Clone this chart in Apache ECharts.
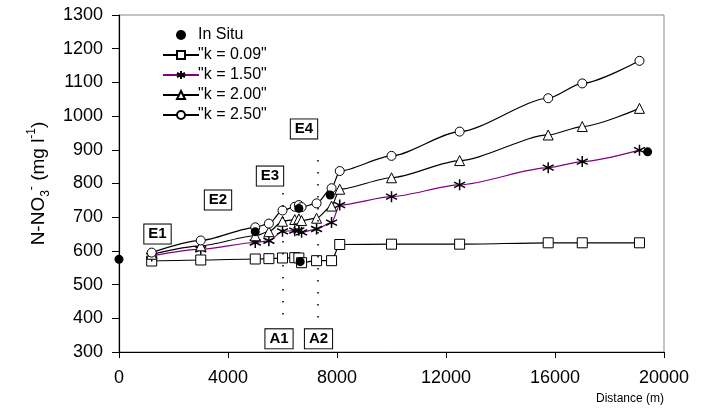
<!DOCTYPE html>
<html>
<head>
<meta charset="utf-8">
<script src="https://cdn.jsdelivr.net/npm/echarts@6/dist/echarts.min.js"></script>
<style>
html,body{margin:0;padding:0;background:#fff;}
#chart{width:708px;height:415px;}
</style>
</head>
<body>
<div id="chart"></div>
<script>
// ---- data ----
const distance = [1200, 3000, 5000, 5500, 6000, 6450, 6600, 6700, 7250, 7800, 8100, 10000, 12500, 15750, 17000, 19100];
const k009 = [570, 573, 576, 577, 579, 580, 579, 565, 571, 571, 619, 620, 620, 624, 624, 624];
const k150 = [585, 605, 625, 630, 658, 660, 661, 655, 665, 684, 736, 761, 796, 847, 865, 899];
const k200 = [590, 615, 645, 657, 688, 693, 695, 690, 697, 733, 783, 817, 868, 944, 969, 1023];
const k250 = [595, 631, 670, 681, 720, 731, 736, 730, 741, 786, 837, 882, 954, 1053, 1097, 1164];
const inSituX = [0, 5000, 6600, 6650, 7750, 19400];
const inSituY = [575, 657, 726, 568, 766, 894];
const seriesNames = ['In Situ', '"k = 0.09"', '"k = 1.50"', '"k = 2.00"', '"k = 2.50"'];
const xTicks = [0, 4000, 8000, 12000, 16000, 20000];
const yTicks = [300, 400, 500, 600, 700, 800, 900, 1000, 1100, 1200, 1300];
const annotationNames = ['E1', 'E2', 'E3', 'E4', 'A1', 'A2'];
const annotationX = [1413, 3633, 5541, 6789, 5872, 7321];
const annotationY = [650, 751, 822, 962, 339, 339];
const markerLineX = [6000, 7300];
const markerLineTop = [772, 870];
const markerLineBottom = [380, 380];

const zip = (xs, ys) => xs.map((x, i) => [x, ys[i]]);
const FONT = 'Liberation Sans, Arial, sans-serif';
const starPath = 'path://M0,-6L0,6M-5.2,-3L5.2,3M-5.2,3L5.2,-3';

function lineSeries(name, ys, symbol, color, size) {
  const isStar = symbol === starPath;
  return {
    name: name,
    type: 'line',
    data: zip(distance, ys),
    smooth: 0.25,
    smoothMonotone: 'x',
    symbol: symbol,
    symbolSize: size,
    showAllSymbol: true,
    lineStyle: { color: color, width: 1.2 },
    itemStyle: { color: isStar ? '#000' : '#fff', borderColor: '#000', borderWidth: isStar ? 1.5 : 1, opacity: 1 },
    emphasis: { disabled: true },
    z: 3
  };
}

const chart = echarts.init(document.getElementById('chart'), null, { renderer: 'canvas' });
chart.setOption({
  animation: false,
  textStyle: { fontFamily: FONT, color: '#000' },
  grid: { left: 119, right: 44, top: 15, bottom: 63, show: true, borderColor: '#888', borderWidth: 1, containLabel: false },
  legend: {
    orient: 'vertical',
    left: 157,
    top: 22,
    itemWidth: 36,
    itemHeight: 10,
    itemGap: 4,
    textStyle: { fontFamily: FONT, fontSize: 16, color: '#000', padding: [0, 0, 0, -6] },
    data: seriesNames,
    selectedMode: false
  },
  xAxis: {
    type: 'value',
    min: xTicks[0],
    max: xTicks[xTicks.length - 1],
    interval: xTicks[1] - xTicks[0],
    name: 'Distance (m)',
    nameLocation: 'end',
    nameGap: 0,
    nameTextStyle: { fontFamily: FONT, fontSize: 12, color: '#000', align: 'right', verticalAlign: 'top', padding: [41, 0, 0, 0] },
    axisLine: { lineStyle: { color: '#000', width: 1.2 } },
    axisTick: { inside: false, length: 6, lineStyle: { color: '#000' } },
    axisLabel: { fontFamily: FONT, fontSize: 18, color: '#000', margin: 17, formatter: v => String(v) },
    splitLine: { show: false }
  },
  yAxis: {
    type: 'value',
    min: yTicks[0],
    max: yTicks[yTicks.length - 1],
    interval: yTicks[1] - yTicks[0],
    name: '{b|N-NO}{sub|3}{sup|-}{b| (mg l}{sup|-1}{b|)}',
    nameLocation: 'middle',
    nameRotate: 90,
    nameGap: 47,
    nameTextStyle: {
      rich: {
        b: { fontFamily: FONT, fontSize: 19, color: '#000', lineHeight: 26, verticalAlign: 'middle' },
        sub: { fontFamily: FONT, fontSize: 12, color: '#000', lineHeight: 26, verticalAlign: 'bottom' },
        sup: { fontFamily: FONT, fontSize: 12, color: '#000', lineHeight: 26, verticalAlign: 'top' }
      }
    },
    axisLine: { show: true, lineStyle: { color: '#000', width: 1.2 } },
    axisTick: { show: true, inside: false, length: 7, lineStyle: { color: '#000' } },
    axisLabel: { fontFamily: FONT, fontSize: 18, color: '#000', margin: 16, formatter: v => String(v) },
    splitLine: { show: false }
  },
  series: [
    {
      name: seriesNames[0],
      type: 'scatter',
      data: zip(inSituX, inSituY),
      symbol: 'circle',
      symbolSize: 9,
      itemStyle: { color: '#000', opacity: 1 },
      emphasis: { disabled: true },
      z: 4
    },
    lineSeries(seriesNames[1], k009, 'rect', '#000', 10),
    lineSeries(seriesNames[2], k150, starPath, '#800080', 11),
    lineSeries(seriesNames[3], k200, 'triangle', '#000', 10),
    lineSeries(seriesNames[4], k250, 'circle', '#000', 9),
    {
      name: 'annotations',
      type: 'scatter',
      data: annotationNames.map((n, i) => ({ name: n, value: [annotationX[i], annotationY[i]] })),
      symbolSize: 0,
      silent: true,
      itemStyle: { opacity: 1 },
      label: {
        show: true,
        position: 'inside',
        formatter: p => p.name,
        fontFamily: FONT,
        fontSize: 15,
        fontWeight: 'bold',
        color: '#000',
        backgroundColor: '#fff',
        borderColor: '#000',
        borderWidth: 1,
        padding: [3, 4, 1, 4]
      },
      markLine: {
        silent: true,
        symbol: 'none',
        label: { show: false },
        lineStyle: { color: '#000', width: 1.5, type: [1.5, 10.5] },
        data: markerLineX.map((x, i) => [{ coord: [x, markerLineTop[i]] }, { coord: [x, markerLineBottom[i]] }])
      },
      z: 5
    }
  ]
});
</script>
</body>
</html>
